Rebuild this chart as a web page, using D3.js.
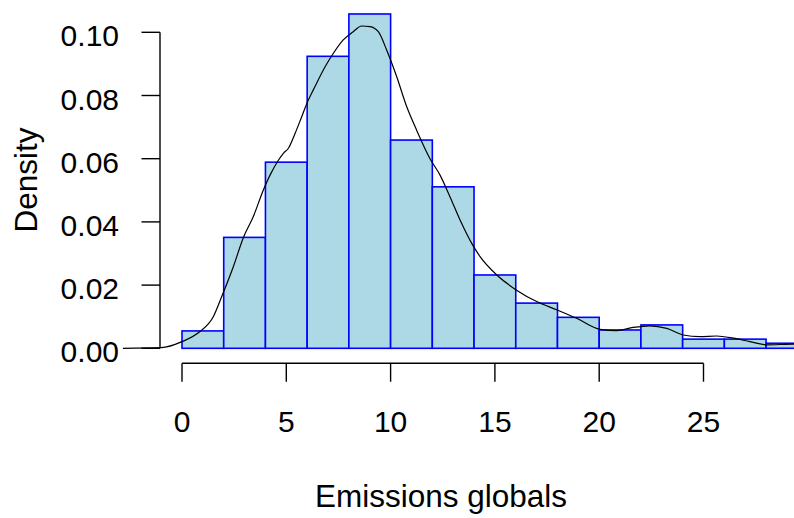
<!DOCTYPE html>
<html lang="en">
<head>
    <meta charset="UTF-8">
    <title>Emissions globals</title>
    <script src="https://d3js.org/d3.v7.min.js"></script>
    <style>
        body {
            margin: 0;
            overflow: hidden;
            background: #fff;
        }
        text {
            font-family: "Liberation Sans", Arial, sans-serif;
            font-size: 30px;
            fill: #000;
        }
        .title {
            font-size: 31.5px;
        }
        .axis-line {
            stroke: #000;
            stroke-width: 1.4;
            fill: none;
        }
        .bar {
            fill: #add8e6;
            stroke: #0000ff;
            stroke-width: 1.6;
        }
        .dens {
            fill: none;
            stroke: #000;
            stroke-width: 1.2;
        }
    </style>
</head>
<body>
    <script>
        const width = 794;
        const height = 518;

        // histogram bins (width 2) and densities
        const binStarts = [0, 2, 4, 6, 8, 10, 12, 14, 16, 18, 20, 22, 24, 26, 28];
        const binDensity = [0.0055, 0.0351, 0.0589, 0.0924, 0.1058, 0.0659, 0.0511, 0.0232,
                            0.0143, 0.0098, 0.0058, 0.0074, 0.0029, 0.0029, 0.0016];
        const binWidth = 2;

        // kernel density curve
        const densX = [-2.83, -1.0, 0, 0.86, 1.5, 1.9, 2.46, 2.94, 3.42, 3.90, 4.22, 4.62, 4.86,
                       5.10, 5.42, 5.74, 6.05, 6.29, 6.86, 7.25, 7.73, 8.21, 8.61, 9.01, 9.41, 9.81,
                       10.29, 10.77, 11.25, 11.89, 12.37, 12.85, 13.33, 13.89, 14.29, 15.09, 16.04,
                       17.0, 17.96, 18.92, 20.04, 20.84, 21.63, 22.43, 23.24, 24.03, 24.83, 25.63,
                       26.43, 27.23, 28.03, 29.3, 30.5];
        const densY = [0, 0.0002, 0.0021, 0.0053, 0.0100, 0.0163, 0.0258, 0.0350, 0.0417, 0.0501,
                       0.0548, 0.0595, 0.0617, 0.0633, 0.0680, 0.0733, 0.0785, 0.0817, 0.0891,
                       0.0933, 0.0976, 0.1002, 0.1020, 0.1018, 0.1002, 0.0944, 0.0860, 0.0765,
                       0.0690, 0.0600, 0.0548, 0.0479, 0.0406, 0.0332, 0.0290, 0.0232, 0.0184,
                       0.0148, 0.0122, 0.0095, 0.0060, 0.0056, 0.0066, 0.0071, 0.0063, 0.0042,
                       0.0037, 0.0039, 0.0032, 0.0021, 0.0011, 0.0013, 0.0010];

        const xTicks = [0, 5, 10, 15, 20, 25];
        const yTicks = [0, 0.02, 0.04, 0.06, 0.08, 0.10];

        const x = d3.scaleLinear().domain([0, 25]).range([182, 703.5]);
        const y = d3.scaleLinear().domain([0, 0.10]).range([348.3, 32.3]);

        const svg = d3.select("body").append("svg")
            .attr("width", width)
            .attr("height", height);

        // bars
        svg.append("g")
            .selectAll("rect")
            .data(binStarts.map((s, i) => ({ s: s, d: binDensity[i] })))
            .enter().append("rect")
            .attr("class", "bar")
            .attr("x", d => x(d.s))
            .attr("y", d => y(d.d))
            .attr("width", d => x(d.s + binWidth) - x(d.s))
            .attr("height", d => y(0) - y(d.d));

        // density line
        const line = d3.line()
            .x(d => x(d[0]))
            .y(d => y(d[1]))
            .curve(d3.curveMonotoneX);

        svg.append("path")
            .attr("class", "dens")
            .attr("d", line(densX.map((v, i) => [v, densY[i]])));

        // y axis (R style, detached)
        const yAxis = svg.append("g");
        yAxis.append("line")
            .attr("class", "axis-line")
            .attr("x1", 160).attr("x2", 160)
            .attr("y1", y(0)).attr("y2", y(0.10));
        yAxis.selectAll(".yt")
            .data(yTicks)
            .enter().append("line")
            .attr("class", "axis-line")
            .attr("x1", 141.5).attr("x2", 160)
            .attr("y1", d => y(d)).attr("y2", d => y(d));
        yAxis.selectAll("text")
            .data(yTicks)
            .enter().append("text")
            .attr("x", 119)
            .attr("y", d => y(d) + 14)
            .attr("text-anchor", "end")
            .text(d => d3.format(".2f")(d));

        // x axis
        const xAxis = svg.append("g");
        xAxis.append("line")
            .attr("class", "axis-line")
            .attr("x1", x(0)).attr("x2", x(25))
            .attr("y1", 363.3).attr("y2", 363.3);
        xAxis.selectAll(".xt")
            .data(xTicks)
            .enter().append("line")
            .attr("class", "axis-line")
            .attr("x1", d => x(d)).attr("x2", d => x(d))
            .attr("y1", 363.3).attr("y2", 381.7);
        xAxis.selectAll("text")
            .data(xTicks)
            .enter().append("text")
            .attr("x", d => x(d))
            .attr("y", 432)
            .attr("text-anchor", "middle")
            .text(d => d);

        // axis titles
        svg.append("text")
            .attr("class", "title")
            .attr("x", 441)
            .attr("y", 506.5)
            .attr("text-anchor", "middle")
            .text("Emissions globals");

        svg.append("text")
            .attr("class", "title")
            .attr("transform", "translate(36.5,180) rotate(-90)")
            .attr("text-anchor", "middle")
            .text("Density");
    </script>
</body>
</html>
